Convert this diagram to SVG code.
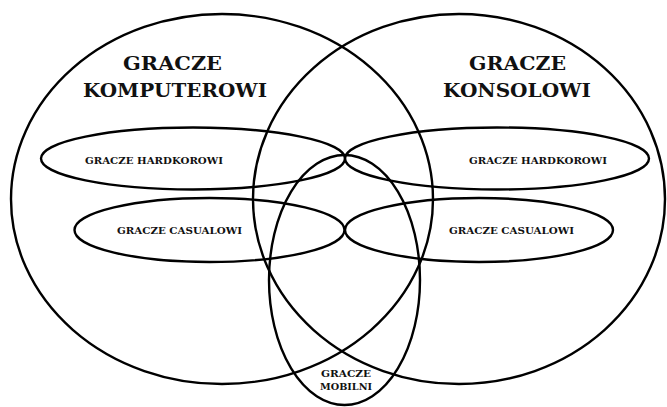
<svg xmlns="http://www.w3.org/2000/svg" width="667" height="407" viewBox="0 0 667 407">
<style>
.sh{fill:none;stroke:#000;stroke-width:2.4}
.t{font-family:"DejaVu Serif","Liberation Serif",serif;font-weight:bold;fill:#111;text-anchor:middle}
.big{font-size:19px}
.sm{font-size:9.5px}
</style>
<rect width="667" height="407" fill="#fff"/>
<g id="komputerowi">
<ellipse class="sh" cx="222" cy="199" rx="211" ry="185"/>
<text class="t big" x="172.5" y="70" textLength="99" lengthAdjust="spacingAndGlyphs">GRACZE</text>
<text class="t big" x="175" y="97" textLength="184" lengthAdjust="spacingAndGlyphs">KOMPUTEROWI</text>
</g>
<g id="konsolowi">
<ellipse class="sh" cx="459" cy="199" rx="206" ry="185"/>
<text class="t big" x="517.5" y="70" textLength="97" lengthAdjust="spacingAndGlyphs">GRACZE</text>
<text class="t big" x="517" y="97" textLength="148" lengthAdjust="spacingAndGlyphs">KONSOLOWI</text>
</g>
<g id="hardkorowi-pc">
<ellipse class="sh" cx="193" cy="158.5" rx="152" ry="31"/>
<text class="t sm" x="154" y="164" textLength="138" lengthAdjust="spacingAndGlyphs">GRACZE HARDKOROWI</text>
</g>
<g id="hardkorowi-konsole">
<ellipse class="sh" cx="497" cy="158.5" rx="152" ry="31"/>
<text class="t sm" x="538" y="164" textLength="138" lengthAdjust="spacingAndGlyphs">GRACZE HARDKOROWI</text>
</g>
<g id="casualowi-pc">
<ellipse class="sh" cx="209.5" cy="230" rx="135" ry="32"/>
<text class="t sm" x="179.5" y="234" textLength="125" lengthAdjust="spacingAndGlyphs">GRACZE CASUALOWI</text>
</g>
<g id="casualowi-konsole">
<ellipse class="sh" cx="479" cy="230" rx="134" ry="32"/>
<text class="t sm" x="511.5" y="234" textLength="125" lengthAdjust="spacingAndGlyphs">GRACZE CASUALOWI</text>
</g>
<g id="mobilni">
<ellipse class="sh" cx="344.5" cy="280" rx="75.5" ry="125"/>
<text class="t sm" x="346" y="377" textLength="50" lengthAdjust="spacingAndGlyphs">GRACZE</text>
<text class="t sm" x="346" y="390" textLength="52" lengthAdjust="spacingAndGlyphs">MOBILNI</text>
</g>
<g id="connectors"></g>
</svg>
